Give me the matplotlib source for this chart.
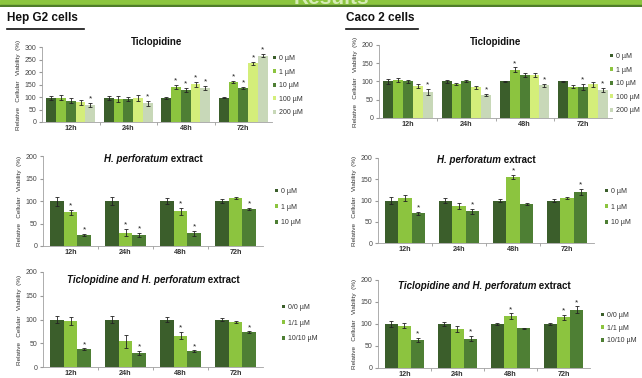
import numpy as np
import matplotlib
matplotlib.use("Agg")
import matplotlib.pyplot as plt
from matplotlib.patches import Rectangle

plt.rcParams['font.family'] = ['Liberation Sans', 'DejaVu Sans']

times = ["12h", "24h", "48h", "72h"]

# HepG2 – ticlopidine (rows: doses, cols: time points)
hep_tic_labels = ["0 µM", "1 µM", "10 µM", "100 µM", "200 µM"]
hep_tic_mean = [[98, 98, 98, 98],
                [98, 92, 140, 160],
                [85, 93, 130, 137],
                [80, 98, 152, 235],
                [68, 75, 138, 265]]
hep_tic_err = [[8, 8, 4, 3],
               [10, 12, 8, 5],
               [10, 8, 8, 4],
               [10, 12, 10, 6],
               [8, 10, 8, 6]]
hep_tic_sig = [[0, 0, 0, 0],
               [0, 0, 1, 1],
               [0, 0, 1, 1],
               [0, 0, 1, 1],
               [1, 1, 1, 1]]

# Caco2 – ticlopidine
caco_tic_labels = ["0 µM", "1 µM", "10 µM", "100 µM", "200 µM"]
caco_tic_mean = [[100, 100, 100, 100],
                 [104, 93, 132, 86],
                 [100, 102, 118, 85],
                 [88, 84, 118, 92],
                 [72, 63, 90, 76]]
caco_tic_err = [[6, 5, 2, 2],
                [5, 3, 7, 4],
                [3, 3, 5, 8],
                [6, 5, 6, 6],
                [8, 3, 4, 6]]
caco_tic_sig = [[0, 0, 0, 0],
                [0, 0, 1, 0],
                [0, 0, 0, 1],
                [0, 0, 0, 0],
                [1, 1, 1, 1]]

# HepG2 – H. perforatum extract
hep_hp_labels = ["0 µM", "1 µM", "10 µM"]
hep_hp_mean = [[100, 100, 100, 100],
               [75, 30, 77, 107],
               [25, 25, 28, 82]]
hep_hp_err = [[10, 8, 6, 5],
              [6, 8, 7, 2],
              [2, 4, 5, 3]]
hep_hp_sig = [[0, 0, 0, 0],
              [1, 1, 1, 0],
              [1, 1, 1, 1]]

# Caco2 – H. perforatum extract
caco_hp_labels = ["0 µM", "1 µM", "10 µM"]
caco_hp_mean = [[100, 100, 100, 100],
                [106, 86, 155, 106],
                [70, 75, 92, 120]]
caco_hp_err = [[8, 6, 4, 3],
               [8, 7, 5, 3],
               [4, 6, 2, 8]]
caco_hp_sig = [[0, 0, 0, 0],
               [0, 0, 1, 0],
               [1, 1, 0, 1]]

# HepG2 – combination
hep_mix_labels = ["0/0 µM", "1/1 µM", "10/10 µM"]
hep_mix_mean = [[100, 100, 100, 100],
                [97, 54, 66, 94],
                [37, 30, 33, 73]]
hep_mix_err = [[8, 8, 5, 4],
               [8, 14, 7, 2],
               [2, 4, 2, 2]]
hep_mix_sig = [[0, 0, 0, 0],
               [0, 0, 1, 0],
               [1, 1, 1, 1]]

# Caco2 – combination
caco_mix_labels = ["0/0 µM", "1/1 µM", "10/10 µM"]
caco_mix_mean = [[100, 100, 100, 100],
                 [96, 88, 118, 115],
                 [63, 67, 90, 132]]
caco_mix_err = [[6, 5, 2, 2],
                [6, 7, 6, 6],
                [5, 5, 2, 8]]
caco_mix_sig = [[0, 0, 0, 0],
                [0, 0, 1, 1],
                [1, 1, 0, 1]]

colors5 = ["#3b5e2b", "#8cc43f", "#4e7f34", "#d4ee7a", "#c8d8b8"]
colors3 = ["#3b5e2b", "#8cc43f", "#4e7f34"]

W, H = 642, 378
fig = plt.figure(figsize=(W / 100, H / 100), dpi=100)


def fbox(x0, y0, x1, y1):
    # pixel box (top-left origin) -> figure fraction rect
    return [x0 / W, 1 - y1 / H, (x1 - x0) / W, (y1 - y0) / H]


# header banner (title text runs off the top edge of the strip)
ban = fig.add_axes(fbox(0, 0, W, 7))
ban.set_xlim(0, W)
ban.set_ylim(7, 0)
ban.axis("off")
ban.add_patch(Rectangle((0, 0), W, 5, color="#8cc63f", clip_on=True))
ban.add_patch(Rectangle((0, 5), W, 2, color="#4f7d2a", clip_on=True))
ban.text(331, 3.6, "Results", color="#d6ecb4", fontsize=15, fontweight="bold",
         ha="center", va="baseline", clip_on=True)

# section headers
for x0, x1, txt in [(7, 84, "Hep G2 cells"), (346, 418, "Caco 2 cells")]:
    fig.text(x0 / W, 1 - 18 / H, txt, fontsize=8.5, fontweight="bold",
             ha="left", va="center", color="#111111")
    fig.add_artist(plt.Line2D([x0 / W, x1 / W], [1 - 29 / H, 1 - 29 / H],
                              color="#111111", lw=1.2))


def panel(box, means, errs, sig, labels, colors, ymax, title_parts, title_y,
          leg_xy, leg_space, bar_w):
    ax = fig.add_axes(fbox(*box))
    means = np.asarray(means, float)
    errs = np.asarray(errs, float)
    n = len(labels)
    x = np.arange(len(times))
    for i in range(n):
        xs = x + (i - (n - 1) / 2) * bar_w
        ax.bar(xs, means[i], bar_w, color=colors[i], label=labels[i],
               yerr=errs[i], error_kw=dict(ecolor="#222222", elinewidth=0.6,
                                           capsize=1.4, capthick=0.6))
        for j in range(len(times)):
            if sig[i][j]:
                ax.text(xs[j], means[i][j] + errs[i][j] + ymax * 0.005, "*",
                        ha="center", va="bottom", fontsize=6, color="#222222")
    ax.set_xlim(-0.5, len(times) - 0.5)
    ax.set_ylim(0, ymax)
    ax.set_yticks(np.arange(0, ymax + 1, 50))
    ax.set_xticks(x)
    ax.set_xticklabels(times, fontsize=5.2, fontweight="bold", color="#333333")
    ax.set_xticks(np.arange(0.5, len(times) - 0.5, 1), minor=True)
    ax.tick_params(axis="x", which="major", length=0, pad=2)
    ax.tick_params(axis="x", which="minor", length=2, color="#999999")
    ax.tick_params(axis="y", labelsize=5, labelcolor="#444444", length=2,
                   color="#999999", pad=2)
    for s in ["top", "right"]:
        ax.spines[s].set_visible(False)
    for s in ["left", "bottom"]:
        ax.spines[s].set_color("#a0a0a0")
        ax.spines[s].set_linewidth(0.6)
    ax.set_ylabel("Relative   Cellular   Viability  (%)", fontsize=4.6,
                  color="#333333", labelpad=3)
    # title (mixed italic / upright pieces)
    cx = (box[0] + box[2]) / 2 / W
    ty = 1 - title_y / H
    total = "".join(p for p, _ in title_parts)
    if len(title_parts) == 1:
        fig.text(cx, ty, total, fontsize=7, fontweight="bold",
                 style=title_parts[0][1], ha="center", va="center",
                 color="#111111")
    else:
        r = fig.canvas.get_renderer()
        widths = []
        arts = []
        for p, st in title_parts:
            t = fig.text(0, ty, p, fontsize=7, fontweight="bold", style=st,
                         ha="left", va="center", color="#111111")
            bb = t.get_window_extent(renderer=r)
            widths.append(bb.width / W)
            arts.append(t)
        xpos = cx - sum(widths) / 2
        for t, w in zip(arts, widths):
            t.set_x(xpos)
            xpos += w
    leg = ax.legend(loc="upper left", bbox_to_anchor=(leg_xy[0] / W, 1 - leg_xy[1] / H),
                    bbox_transform=fig.transFigure, frameon=False, fontsize=5,
                    handlelength=0.45, handleheight=0.45, handletextpad=0.4,
                    labelspacing=leg_space, borderpad=0, borderaxespad=0)
    for t in leg.get_texts():
        t.set_color("#333333")
    return ax


panel((42, 47, 272, 122), hep_tic_mean, hep_tic_err, hep_tic_sig,
      hep_tic_labels, colors5, 300, [("Ticlopidine", "normal")], 42,
      (273, 55), 0.95, 0.17)
panel((379, 45, 612, 118), caco_tic_mean, caco_tic_err, caco_tic_sig,
      caco_tic_labels, colors5, 200, [("Ticlopidine", "normal")], 42,
      (610, 53), 0.95, 0.17)
panel((43, 156, 263, 246), hep_hp_mean, hep_hp_err, hep_hp_sig,
      hep_hp_labels, colors3, 200,
      [("H. perforatum", "italic"), (" extract", "normal")], 159,
      (275, 188), 1.25, 0.25)
panel((378, 158, 594, 243), caco_hp_mean, caco_hp_err, caco_hp_sig,
      caco_hp_labels, colors3, 200,
      [("H. perforatum", "italic"), (" extract", "normal")], 160,
      (605, 188), 1.25, 0.25)
panel((43, 272, 263, 367), hep_mix_mean, hep_mix_err, hep_mix_sig,
      hep_mix_labels, colors3, 200,
      [("Ticlopidine and H. perforatum", "italic"), (" extract", "normal")], 280,
      (282, 304), 1.25, 0.25)
panel((378, 280, 590, 368), caco_mix_mean, caco_mix_err, caco_mix_sig,
      caco_mix_labels, colors3, 200,
      [("Ticlopidine and H. perforatum", "italic"), (" extract", "normal")], 286,
      (601, 312), 0.8, 0.25)

fig.savefig("out.png", dpi=100)
